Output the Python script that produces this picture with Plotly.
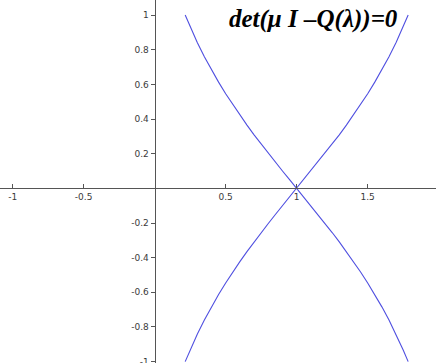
import plotly.graph_objects as go

# Eigenvalue branches mu(lambda) of det(mu I - Q(lambda)) = 0
lam = [0.215, 0.25, 0.30, 0.35, 0.40, 0.45, 0.50, 0.55, 0.60, 0.65, 0.70,
       0.75, 0.80, 0.85, 0.90, 0.95, 1.00, 1.05, 1.10, 1.15, 1.20, 1.25,
       1.30, 1.35, 1.40, 1.45, 1.50, 1.55, 1.60, 1.65, 1.70, 1.75, 1.785]
mu_a = [1.000, 0.933, 0.842, 0.760, 0.684, 0.613, 0.546, 0.483, 0.423,
        0.365, 0.309, 0.255, 0.203, 0.151, 0.100, 0.050, 0.000, -0.050,
        -0.100, -0.151, -0.203, -0.255, -0.309, -0.365, -0.423, -0.483,
        -0.546, -0.613, -0.684, -0.760, -0.842, -0.933, -1.000]
mu_b = [-1.000, -0.933, -0.842, -0.760, -0.684, -0.613, -0.546, -0.483,
        -0.423, -0.365, -0.309, -0.255, -0.203, -0.151, -0.100, -0.050,
        0.000, 0.050, 0.100, 0.151, 0.203, 0.255, 0.309, 0.365, 0.423,
        0.483, 0.546, 0.613, 0.684, 0.760, 0.842, 0.933, 1.000]

x_ticks = [-1, -0.5, 0.5, 1, 1.5]
x_tick_text = ["-1", "-0.5", "0.5", "1", "1.5"]
y_ticks = [-1, -0.8, -0.6, -0.4, -0.2, 0.2, 0.4, 0.6, 0.8, 1]
y_tick_text = ["-1", "-0.8", "-0.6", "-0.4", "-0.2", "0.2", "0.4", "0.6", "0.8", "1"]

title_text = "<b><i>det(\u03bc I \u2013Q(\u03bb))=0</i></b>"

x_range = [-1.089, 1.981]
y_range = [-1.008, 1.087]

curve_color = "#4f4fe0"
axis_color = "#555555"
tick_font = dict(family="DejaVu Sans", size=9, color="#3a3a3a")

fig = go.Figure()
for mu in (mu_a, mu_b):
    fig.add_trace(go.Scatter(
        x=lam, y=mu, mode="lines",
        line=dict(color=curve_color, width=1.1),
        hoverinfo="skip", showlegend=False,
    ))

# axes crossing at the origin
x_axis_pos = (0 - y_range[0]) / (y_range[1] - y_range[0])
y_axis_pos = (0 - x_range[0]) / (x_range[1] - x_range[0])

fig.update_layout(
    width=436, height=363,
    margin=dict(l=0, r=0, t=0, b=0),
    paper_bgcolor="white", plot_bgcolor="white",
    xaxis=dict(
        range=x_range, anchor="free", position=x_axis_pos,
        showline=True, linecolor=axis_color, linewidth=1,
        ticks="inside", ticklen=4, tickcolor=axis_color,
        tickvals=x_ticks, ticktext=x_tick_text, tickfont=tick_font,
        showgrid=False, zeroline=False, automargin=False,
        ticklabeloverflow="allow",
    ),
    yaxis=dict(
        range=y_range, anchor="free", position=y_axis_pos,
        showline=True, linecolor=axis_color, linewidth=1,
        ticks="outside", ticklen=4, tickcolor=axis_color,
        tickvals=y_ticks, ticktext=y_tick_text, tickfont=tick_font,
        showgrid=False, zeroline=False, automargin=False,
        ticklabeloverflow="allow",
    ),
    annotations=[dict(
        x=1.115, y=0.98, xref="x", yref="y",
        text=title_text, showarrow=False,
        font=dict(family="Liberation Serif", size=25, color="black"),
    )],
)

fig.write_html("out.html")
